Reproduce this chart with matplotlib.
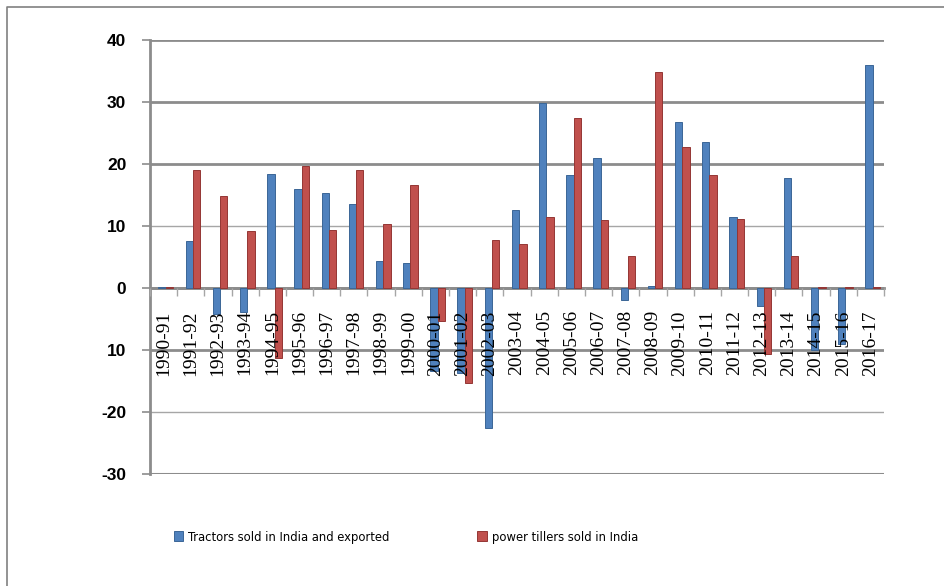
import matplotlib
matplotlib.use("Agg")
import matplotlib.pyplot as plt
import numpy as np
from matplotlib.lines import Line2D

categories = ["1990-91", "1991-92", "1992-93", "1993-94", "1994-95", "1995-96",
              "1996-97", "1997-98", "1998-99", "1999-00", "2000-01", "2001-02",
              "2002-03", "2003-04", "2004-05", "2005-06", "2006-07", "2007-08",
              "2008-09", "2009-10", "2010-11", "2011-12", "2012-13", "2013-14",
              "2014-15", "2015-16", "2016-17"]
tractors = [0.2, 7.6, -4.2, -3.8, 18.4, 15.9, 15.3, 13.6, 4.3, 4.0, -13.4, -13.7,
            -22.5, 12.6, 29.8, 18.2, 20.9, -2.0, 0.3, 26.7, 23.6, 11.5, -2.9, 17.8,
            -10.0, -9.0, 35.9]
tillers = [0.2, 19.0, 14.8, 9.2, -11.3, 19.7, 9.4, 19.0, 10.3, 16.6, -5.3, -15.3,
           7.8, 7.1, 11.5, 27.4, 11.0, 5.2, 34.9, 22.7, 18.2, 11.1, -10.7, 5.1,
           0.2, 0.2, 0.2]
series_names = ["Tractors sold in India and exported", "power tillers sold in India"]
yticks = [-30, -20, -10, 0, 10, 20, 30, 40]
ytick_labels = ["-30", "-20", "10", "0", "10", "20", "30", "40"]

W, H = 944, 586
fig = plt.figure(figsize=(W / 100, H / 100), dpi=100)
ax = fig.add_axes([150 / W, 1 - 474 / H, (884 - 150) / W, (474 - 40) / H])

x = np.arange(len(categories))
bw = 0.27
blue, red = "#4F81BD", "#C0504D"
b1 = ax.bar(x - bw / 2 + 0.08, tractors, bw, color=blue, edgecolor="#3B6696",
            linewidth=0.7, label=series_names[0], zorder=2.2)
b2 = ax.bar(x + bw / 2 + 0.08, tillers, bw, color=red, edgecolor="#943634",
            linewidth=0.7, label=series_names[1], zorder=2.2)

ax.set_xlim(-0.5, len(categories) - 0.5)
ax.set_ylim(-30, 40)

# gridlines
for v in yticks:
    if v in (10, -20):
        ax.axhline(v, color="#A6A6A6", lw=1.0, zorder=1)
    elif v == -30:
        ax.axhline(v, color="#8C8C8C", lw=2.2, zorder=1)
    else:
        ax.axhline(v, color="#8C8C8C", lw=2.0, zorder=1)

for s in ["top", "right"]:
    ax.spines[s].set_visible(False)
ax.spines["left"].set_color("#8C8C8C")
ax.spines["left"].set_linewidth(2.0)
ax.spines["bottom"].set_position(("data", 0))
ax.spines["bottom"].set_color("#8C8C8C")
ax.spines["bottom"].set_linewidth(2.0)
ax.spines["bottom"].set_zorder(2.0)

ax.set_yticks(yticks)
ax.set_yticklabels(ytick_labels, fontsize=12.5, fontweight="bold",
                   family=["Liberation Sans", "DejaVu Sans"])
ax.tick_params(axis="y", length=6, color="#8C8C8C", pad=11, width=1.2)

ax.set_xticks(x)
ax.set_xticklabels(categories, rotation=90, fontsize=14,
                   family=["Liberation Serif", "DejaVu Serif"], va="top")
ax.set_xticks(np.arange(-0.5, len(categories), 1), minor=True)
ax.tick_params(axis="x", which="major", length=0, pad=16)
ax.tick_params(axis="x", which="minor", length=6, color="#A6A6A6", width=1)
ax.xaxis.set_zorder(3)
ax.set_facecolor("none")

leg = fig.legend(handles=[b1, b2], labels=series_names, loc="center",
                 bbox_to_anchor=(406 / W, 1 - 537 / H), ncol=2, frameon=False,
                 prop={"family": ["DejaVu Sans"], "stretch": "condensed", "size": 9.3},
                 columnspacing=6.8, handlelength=0.7, handleheight=0.8,
                 handletextpad=0.4)

# outer chart frame
fig.add_artist(Line2D([7 / W, 7 / W, 1.0], [0.0, 1 - 7 / H, 1 - 7 / H],
                      transform=fig.transFigure, color="#808080", lw=1.2))

fig.savefig("out.png", dpi=100)
